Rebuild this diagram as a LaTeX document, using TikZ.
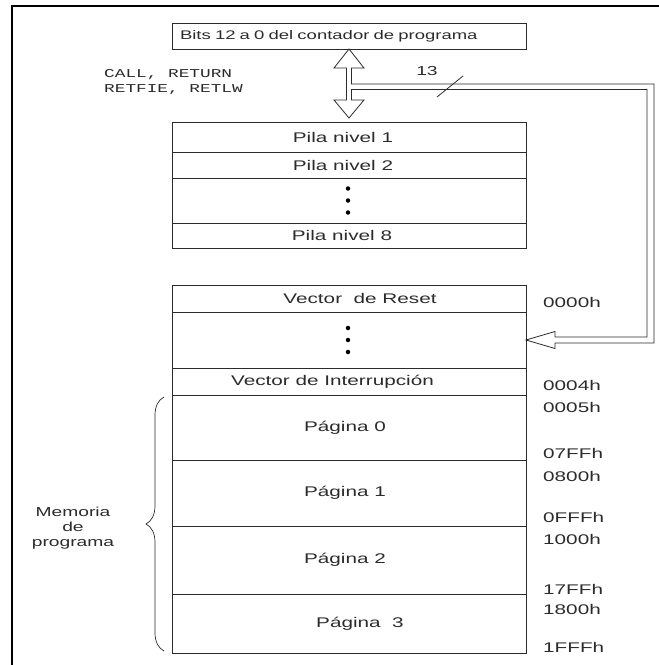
\documentclass[tikz,border=0pt]{standalone}
\usepackage{fontspec}
\setmainfont{Liberation Sans}
\newfontfamily\widesans[FakeStretch=1.48]{Liberation Sans}
\newfontfamily\widemono[FakeStretch=1.48]{Liberation Mono}
\usetikzlibrary{calc, positioning, decorations.pathreplacing}
\definecolor{ink}{HTML}{2B2B2B}
\tikzset{
  cell/.style={draw=ink, line width=0.9pt, minimum width=354pt, minimum height=#1,
    inner sep=0pt, outer sep=0pt, text=ink, font=\widesans\fontsize{14}{16}\selectfont},
  addr/.style={anchor=west, inner sep=0pt, text=ink, font=\widesans\fontsize{14}{16}\selectfont},
  dot/.style={fill=black, circle, inner sep=0pt, minimum size=4.5pt},
  bus/.style={draw=ink, line width=0.8pt, line join=miter},
}

\begin{document}
\begin{tikzpicture}[x=1pt, y=-1pt]
    \useasboundingbox (0,0) rectangle (659,665);
    \draw[line width=2.6pt] (12,670) -- (12,6) -- (670,6);

    % program counter and stack
    \node[draw=ink, line width=0.9pt, minimum height=26pt, text width=338pt, inner xsep=8pt,
      inner ysep=0pt, outer sep=0pt, align=left, text=ink,
      font=\widesans\fontsize{12.5}{14}\selectfont] (bits) at (349,36) {Bits 12 a 0 del contador de programa};
    \node[anchor=west, inner sep=0pt, align=left, text=ink,
      font=\widemono\fontsize{12}{15}\selectfont] (ops) at (104,82.5) {CALL, RETURN\\RETFIE, RETLW};
    \node[cell=30pt] (pila1) at (349,137) {Pila nivel 1\hspace*{12pt}};
    \node[cell=26pt, below=0pt of pila1] (pila2) {Pila nivel 2\hspace*{12pt}};
    \node[cell=45pt, below=0pt of pila2] (pilad) {};
    \node[cell=25pt, below=0pt of pilad] (pila8) {Pila nivel 8\hspace*{14pt}};

    % program memory
    \node[cell=27pt] (reset) at (349,298.5) {\hspace*{22pt}Vector \ de Reset};
    \node[cell=56pt, below=0pt of reset] (rdots) {};
    \node[cell=27pt, below=0pt of rdots] (vint) {Vector de Interrupción\hspace*{33pt}};
    \node[cell=65pt, below=0pt of vint] (pag0) {Página 0\hspace*{8pt}};
    \node[cell=66pt, below=0pt of pag0] (pag1) {Página 1\hspace*{8pt}};
    \node[cell=68pt, below=0pt of pag1] (pag2) {Página 2\hspace*{8pt}};
    \node[cell=59pt, below=0pt of pag2] (pag3) {\hspace*{22pt}Página \ 3};

    \foreach \d in {-12,0,12} {
      \node[dot] at ($(pilad.center)+(-1,\d)$) {};
      \node[dot] at ($(rdots.center)+(-1,\d)$) {};
    }

    \foreach \y/\t in {302/0000h, 385/0004h, 407/0005h, 453/07FFh, 476/0800h,
                       517/0FFFh, 539/1000h, 589/17FFh, 609/1800h, 647/1FFFh}
      \node[addr] (a\t) at (543,\y) {\t};

    % stack bus and return path
    \coordinate (B) at (bits.south);
    \coordinate (P) at (pila1.north);
    \coordinate (R) at (rdots.east);
    \draw[bus] (B) -- ++(15,19) -- ++(-12.5,0) -- ++(0,16) -- (654,84) -- (654,343)
      -- ($(R)+(29,3)$) -- ++(0,5.5) -- (R) -- ($(R)+(29,-8.5)$) -- ++(0,5.5)
      -- (647,337) -- (647,89.5) -- ($(B)+(2.5,40.5)$) -- ($(P)+(2.5,-22)$) -- ++(12.5,0)
      -- ($(P)+(0,-4)$) -- ++(-15,-18) -- ++(12.5,0) -- ($(B)+(-2.5,19)$) -- ++(-12.5,0) -- cycle;
    \node[text=ink, inner sep=0pt, font=\widesans\fontsize{13}{15}\selectfont] (width) at (427,71) {13};
    \draw[ink, line width=0.8pt] (437,97) -- (463,76);

    % memory brace
    \draw[ink, line width=0.7pt, decorate, decoration={brace, amplitude=18pt}]
      ($(pag3.south west)+(-8,-2)$) -- ($(pag0.north west)+(-8,2)$);
    \node[align=center, inner sep=0pt, text=ink, font=\widesans\fontsize{13}{15}\selectfont]
      (mem) at (73,528) {Memoria\\de\\programa};
\end{tikzpicture}
\end{document}
